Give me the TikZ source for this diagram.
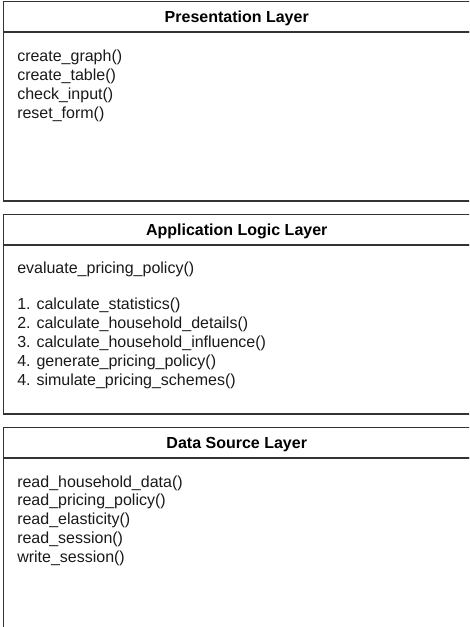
\documentclass[tikz,border=0pt]{standalone}
\usepackage{fontspec}
\setmainfont{Liberation Sans}
\usetikzlibrary{positioning}

\tikzset{
  layer/.style={draw=black!80, line width=1.5pt, outer sep=0pt, inner sep=0pt,
    minimum width=470pt},
  layerhead/.style={layer, minimum height=30.5pt, text depth=0pt,
    font=\fontsize{16}{19}\bfseries},
  layerbody/.style={layer, minimum height=169pt},
  op/.style={anchor=base west, inner sep=0pt, text=black!90,
    font=\fontsize{16}{19}\selectfont},
}

\begin{document}
\begin{tikzpicture}
  \useasboundingbox (0,0) rectangle (469pt,-627pt);
  \clip (0,0) rectangle (469pt,-627pt);

  % presentation layer
  \node[layerhead] (pres) at (238.25pt,-16.75pt) {\hspace*{-3pt}Presentation Layer};
  \node[layerbody, below=0pt of pres] (pres body) {};
  \foreach \op [count=\i] in {create\_graph(), create\_table(), check\_input(), reset\_form()}
    \node[op] (pres op\i) at ([xshift=13.8pt, yshift={-29pt-19.3pt*(\i-1)}]pres body.north west) {\op};

  % application logic layer
  \node[layerhead, below=13.5pt of pres body] (app) {\hspace*{-3pt}Application Logic Layer};
  \node[layerbody, below=0pt of app] (app body) {};
  \node[op] (app main) at ([xshift=13.8pt, yshift=-28pt]app body.north west) {evaluate\_pricing\_policy()};
  \foreach \op [count=\i] in {1. calculate\_statistics(), 2. calculate\_household\_details(),
      3. calculate\_household\_influence(), 4. generate\_pricing\_policy(), 4. simulate\_pricing\_schemes()}
    \node[op] (app op\i) at ([yshift={-36.7pt-19pt*(\i-1)}]app main.base west) {\op};

  % data source layer
  \node[layerhead, below=13.5pt of app body] (data) {\hspace*{-3pt}Data Source Layer};
  \node[layerbody, minimum height=190pt, below=0pt of data] (data body) {};
  \foreach \op [count=\i] in {read\_household\_data(), read\_pricing\_policy(), read\_elasticity(),
      read\_session(), write\_session()}
    \node[op] (data op\i) at ([xshift=13.8pt, yshift={-29pt-18.8pt*(\i-1)}]data body.north west) {\op};
\end{tikzpicture}
\end{document}
